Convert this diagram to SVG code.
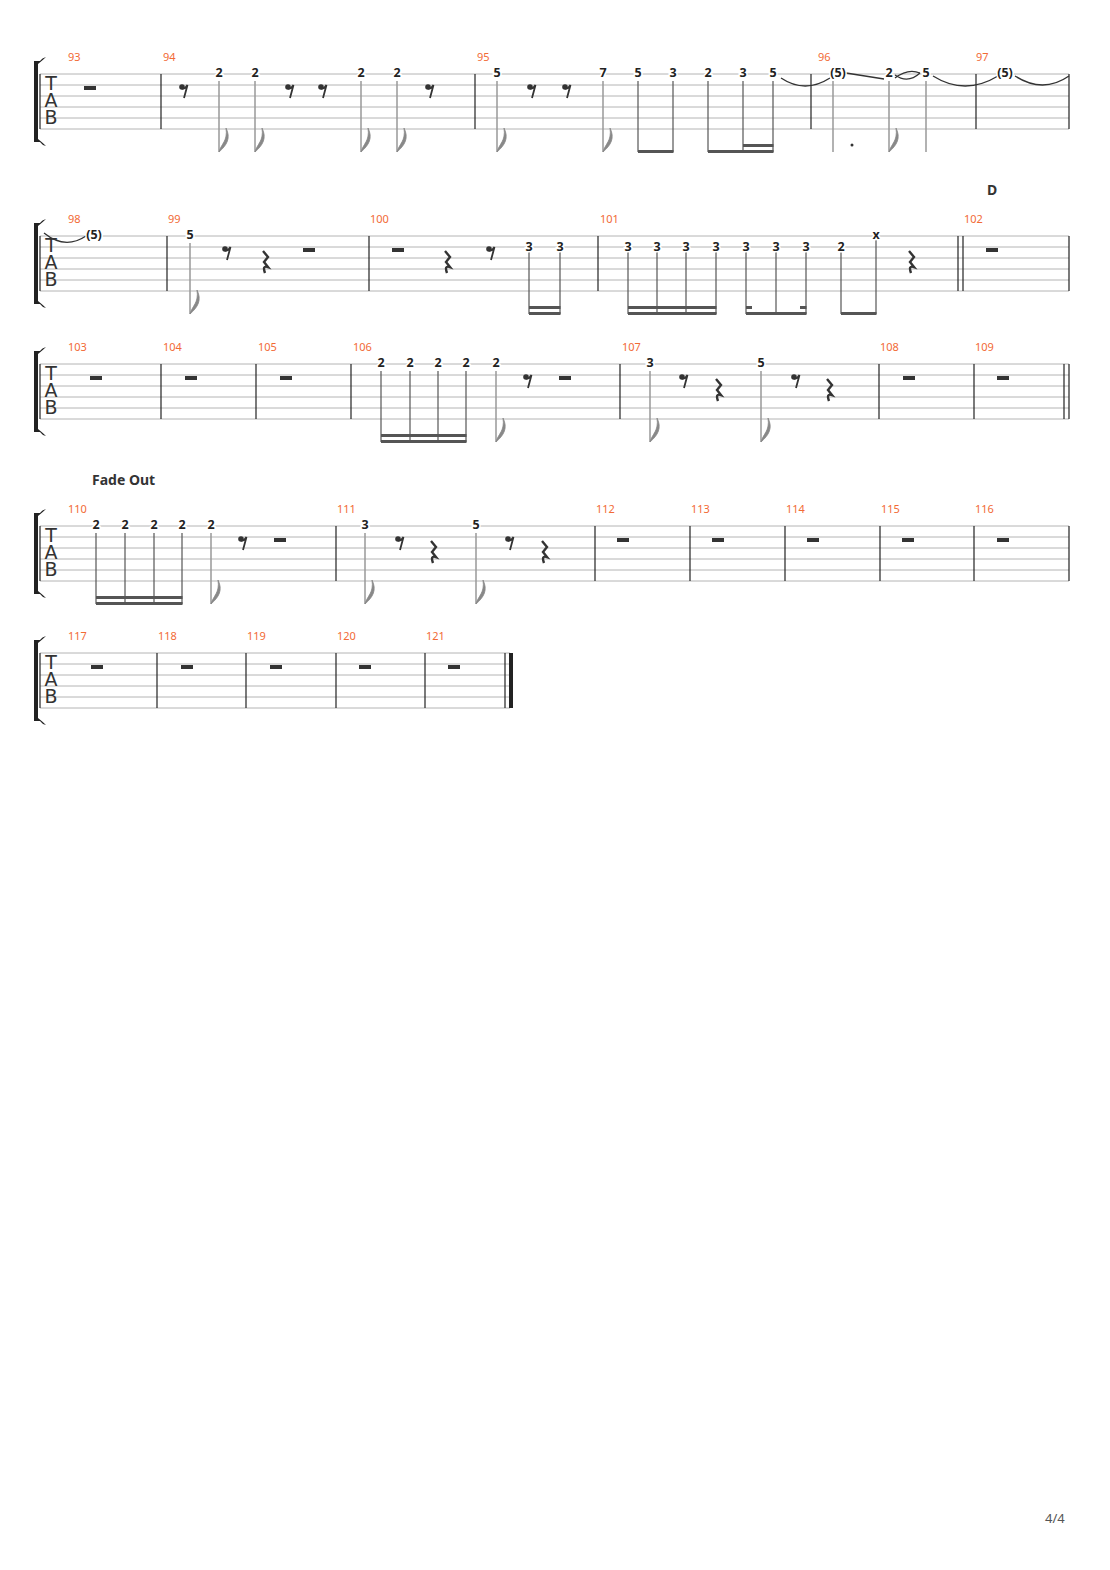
<svg xmlns="http://www.w3.org/2000/svg" xmlns:xlink="http://www.w3.org/1999/xlink" width="1110" height="1570" viewBox="0 0 1110 1570">
<style>
.st{stroke:#b4b4b4;stroke-width:1}
.bl{stroke:#222;stroke-width:1.2}
.mn{font-family:"Noto Sans","Open Sans",sans-serif;font-size:11px;fill:#f26a35}
.n{font-family:"Noto Sans","Open Sans",sans-serif;font-size:12.5px;font-weight:bold;fill:#222;text-anchor:middle;stroke:#fff;stroke-width:3;paint-order:stroke}
.tab{font-family:"DejaVu Sans",sans-serif;font-size:19px;fill:#333;text-anchor:middle}
.sg{stroke:#999;stroke-width:1.5}
.sd{stroke:#555;stroke-width:1.2}
.bm{fill:#555}
.fl{fill:#888;stroke:#888;stroke-width:0.8}
.rs{fill:#333}
.tie{fill:none;stroke:#333;stroke-width:1.3}
.lbl{font-family:"Noto Sans","Open Sans",sans-serif;font-size:14px;font-weight:bold;fill:#333}
</style>
<defs>
<path id="flag" d="M0,78 C2,70 9,67 7,54 C12,64 8,71 0,78 Z"/>
<g id="er"><circle cx="-2" cy="13" r="2.8"/><path d="M-2,14.5 Q1.5,15 3.5,11 L0,24" stroke="#333" stroke-width="1.8" fill="none"/></g>
<path id="qr" d="M-2,15 L3,21 L-1,26 L3,31 Q-3,29 0,37" stroke="#333" stroke-width="2.4" fill="none"/>
<rect id="hr" x="-6" y="12" width="12" height="4"/>
<path id="brk" d="M34,-13 L40,-13 Q42,-16 46,-17 Q43,-14 38,-10 L38,65 Q43,69 46,72 Q42,71 40,68 L34,68 Z" fill="#222"/>
<g id="staff">
<line class="st" x1="40" y1="0" x2="1069" y2="0"/><line class="st" x1="40" y1="11" x2="1069" y2="11"/>
<line class="st" x1="40" y1="22" x2="1069" y2="22"/><line class="st" x1="40" y1="33" x2="1069" y2="33"/>
<line class="st" x1="40" y1="44" x2="1069" y2="44"/><line class="st" x1="40" y1="55" x2="1069" y2="55"/>
<line class="bl" x1="40" y1="0" x2="40" y2="55"/>
<use href="#brk"/>
<text class="tab" x="51" y="16">T</text><text class="tab" x="51" y="33">A</text><text class="tab" x="51" y="50">B</text>
</g>
<g id="staffS">
<line class="st" x1="40" y1="0" x2="510" y2="0"/><line class="st" x1="40" y1="11" x2="510" y2="11"/>
<line class="st" x1="40" y1="22" x2="510" y2="22"/><line class="st" x1="40" y1="33" x2="510" y2="33"/>
<line class="st" x1="40" y1="44" x2="510" y2="44"/><line class="st" x1="40" y1="55" x2="510" y2="55"/>
<line class="bl" x1="40" y1="0" x2="40" y2="55"/>
<use href="#brk"/>
<text class="tab" x="51" y="16">T</text><text class="tab" x="51" y="33">A</text><text class="tab" x="51" y="50">B</text>
</g>
</defs>

<g id="system1" transform="translate(0,74)">
<use href="#staff"/>
<g class="bl"><line x1="161" y1="0" x2="161" y2="55"/><line x1="475" y1="0" x2="475" y2="55"/><line x1="811" y1="0" x2="811" y2="55"/><line x1="976" y1="0" x2="976" y2="55"/><line x1="1069" y1="0" x2="1069" y2="55"/></g>
<text class="mn" x="68" y="-13">93</text><text class="mn" x="163" y="-13">94</text><text class="mn" x="477" y="-13">95</text><text class="mn" x="818" y="-13">96</text><text class="mn" x="976" y="-13">97</text>
<g class="rs"><use href="#hr" x="90"/><use href="#er" x="184"/><use href="#er" x="290"/><use href="#er" x="323"/><use href="#er" x="430"/><use href="#er" x="532"/><use href="#er" x="567"/></g>
<g class="sg"><line x1="219" y1="7" x2="219" y2="78"/><line x1="255" y1="7" x2="255" y2="78"/><line x1="361" y1="7" x2="361" y2="78"/><line x1="397" y1="7" x2="397" y2="78"/><line x1="497" y1="7" x2="497" y2="78"/><line x1="603" y1="7" x2="603" y2="78"/><line x1="833" y1="7" x2="833" y2="78"/><line x1="889" y1="7" x2="889" y2="78"/><line x1="926" y1="7" x2="926" y2="78"/></g>
<g class="fl"><use href="#flag" x="219"/><use href="#flag" x="255"/><use href="#flag" x="361"/><use href="#flag" x="397"/><use href="#flag" x="497"/><use href="#flag" x="603"/><use href="#flag" x="889"/></g>
<circle cx="852" cy="71" r="1.5" fill="#333"/>
<g class="sd"><line x1="638" y1="7" x2="638" y2="78"/><line x1="673" y1="7" x2="673" y2="78"/><line x1="708" y1="7" x2="708" y2="78"/><line x1="743" y1="7" x2="743" y2="78"/><line x1="773" y1="7" x2="773" y2="78"/></g>
<g class="bm"><rect x="638" y="76" width="35.5" height="3"/><rect x="708" y="76" width="65.5" height="3"/><rect x="743" y="70" width="30.5" height="3"/></g>
<g class="tie"><path d="M781,4 Q805,20 830,4"/><path d="M846,-1 L884,5"/><path d="M895,1 Q908,10 920,-1"/><path d="M895,4 Q908,-6 920,-1"/><path d="M933,2 Q965,22 998,2"/><path d="M1015,2 Q1043,20 1069,2"/></g>
<g><text class="n" x="219" y="3">2</text><text class="n" x="255" y="3">2</text><text class="n" x="361" y="3">2</text><text class="n" x="397" y="3">2</text>
<text class="n" x="497" y="3">5</text><text class="n" x="603" y="3">7</text><text class="n" x="638" y="3">5</text><text class="n" x="673" y="3">3</text><text class="n" x="708" y="3">2</text><text class="n" x="743" y="3">3</text><text class="n" x="773" y="3">5</text>
<text class="n" x="838" y="3">(5)</text><text class="n" x="889" y="3">2</text><text class="n" x="926" y="3">5</text><text class="n" x="1005" y="3">(5)</text></g>
</g>

<g id="system2" transform="translate(0,236)">
<use href="#staff"/>
<g class="bl"><line x1="167" y1="0" x2="167" y2="55"/><line x1="369" y1="0" x2="369" y2="55"/><line x1="598" y1="0" x2="598" y2="55"/><line x1="958" y1="0" x2="958" y2="55"/><line x1="963" y1="0" x2="963" y2="55"/><line x1="1069" y1="0" x2="1069" y2="55"/></g>
<text class="mn" x="68" y="-13">98</text><text class="mn" x="168" y="-13">99</text><text class="mn" x="370" y="-13">100</text><text class="mn" x="600" y="-13">101</text><text class="mn" x="964" y="-13">102</text>
<text class="lbl" x="987" y="-41">D</text>
<path class="tie" d="M44,-3 Q65,14 86,0"/>
<g class="rs"><use href="#er" x="227"/><use href="#qr" x="265"/><use href="#hr" x="309"/><use href="#hr" x="398"/><use href="#qr" x="447"/><use href="#er" x="491"/><use href="#qr" x="911"/><use href="#hr" x="992"/></g>
<line class="sg" x1="190" y1="7" x2="190" y2="78"/><use class="fl" href="#flag" x="190"/>
<g class="sd"><line x1="529" y1="7" x2="529" y2="78"/><line x1="560" y1="7" x2="560" y2="78"/>
<line x1="628" y1="7" x2="628" y2="78"/><line x1="657" y1="7" x2="657" y2="78"/><line x1="686" y1="7" x2="686" y2="78"/><line x1="716" y1="7" x2="716" y2="78"/>
<line x1="746" y1="7" x2="746" y2="78"/><line x1="776" y1="7" x2="776" y2="78"/><line x1="806" y1="7" x2="806" y2="78"/><line x1="841" y1="7" x2="841" y2="78"/><line x1="876" y1="3" x2="876" y2="78"/></g>
<g class="bm"><rect x="529" y="76" width="31.5" height="3"/><rect x="529" y="70" width="31.5" height="3"/>
<rect x="628" y="76" width="88.5" height="3"/><rect x="628" y="70" width="88.5" height="3"/>
<rect x="746" y="76" width="60.5" height="3"/><rect x="746" y="70" width="6" height="3"/><rect x="800" y="70" width="6.5" height="3"/>
<rect x="841" y="76" width="35.5" height="3"/></g>
<g><text class="n" x="94" y="3">(5)</text><text class="n" x="190" y="3">5</text><text class="n" x="529" y="15">3</text><text class="n" x="560" y="15">3</text>
<text class="n" x="628" y="15">3</text><text class="n" x="657" y="15">3</text><text class="n" x="686" y="15">3</text><text class="n" x="716" y="15">3</text><text class="n" x="746" y="15">3</text><text class="n" x="776" y="15">3</text><text class="n" x="806" y="15">3</text><text class="n" x="841" y="15">2</text><text class="n" x="876" y="3">x</text></g>
</g>

<g id="system3" transform="translate(0,364)">
<use href="#staff"/>
<g class="bl"><line x1="161" y1="0" x2="161" y2="55"/><line x1="256" y1="0" x2="256" y2="55"/><line x1="351" y1="0" x2="351" y2="55"/><line x1="620" y1="0" x2="620" y2="55"/><line x1="879" y1="0" x2="879" y2="55"/><line x1="974" y1="0" x2="974" y2="55"/><line x1="1064" y1="0" x2="1064" y2="55"/><line x1="1069" y1="0" x2="1069" y2="55"/></g>
<text class="mn" x="68" y="-13">103</text><text class="mn" x="163" y="-13">104</text><text class="mn" x="258" y="-13">105</text><text class="mn" x="353" y="-13">106</text><text class="mn" x="622" y="-13">107</text><text class="mn" x="880" y="-13">108</text><text class="mn" x="975" y="-13">109</text>
<g class="rs"><use href="#hr" x="96"/><use href="#hr" x="191"/><use href="#hr" x="286"/><use href="#er" x="528"/><use href="#hr" x="565"/><use href="#er" x="684"/><use href="#qr" x="718"/><use href="#er" x="796"/><use href="#qr" x="829"/><use href="#hr" x="909"/><use href="#hr" x="1003"/></g>
<g class="sd"><line x1="381" y1="7" x2="381" y2="78"/><line x1="410" y1="7" x2="410" y2="78"/><line x1="438" y1="7" x2="438" y2="78"/><line x1="466" y1="7" x2="466" y2="78"/></g>
<g class="bm"><rect x="381" y="76" width="85.5" height="3"/><rect x="381" y="70" width="85.5" height="3"/></g>
<g class="sg"><line x1="496" y1="7" x2="496" y2="78"/><line x1="650" y1="7" x2="650" y2="78"/><line x1="761" y1="7" x2="761" y2="78"/></g>
<g class="fl"><use href="#flag" x="496"/><use href="#flag" x="650"/><use href="#flag" x="761"/></g>
<g><text class="n" x="381" y="3">2</text><text class="n" x="410" y="3">2</text><text class="n" x="438" y="3">2</text><text class="n" x="466" y="3">2</text><text class="n" x="496" y="3">2</text><text class="n" x="650" y="3">3</text><text class="n" x="761" y="3">5</text></g>
</g>

<g id="system4" transform="translate(0,526)">
<text class="lbl" x="92" y="-41">Fade Out</text>
<use href="#staff"/>
<g class="bl"><line x1="336" y1="0" x2="336" y2="55"/><line x1="595" y1="0" x2="595" y2="55"/><line x1="690" y1="0" x2="690" y2="55"/><line x1="785" y1="0" x2="785" y2="55"/><line x1="880" y1="0" x2="880" y2="55"/><line x1="974" y1="0" x2="974" y2="55"/><line x1="1069" y1="0" x2="1069" y2="55"/></g>
<text class="mn" x="68" y="-13">110</text><text class="mn" x="337" y="-13">111</text><text class="mn" x="596" y="-13">112</text><text class="mn" x="691" y="-13">113</text><text class="mn" x="786" y="-13">114</text><text class="mn" x="881" y="-13">115</text><text class="mn" x="975" y="-13">116</text>
<g class="rs"><use href="#er" x="243"/><use href="#hr" x="280"/><use href="#er" x="400"/><use href="#qr" x="433"/><use href="#er" x="510"/><use href="#qr" x="544"/><use href="#hr" x="623"/><use href="#hr" x="718"/><use href="#hr" x="813"/><use href="#hr" x="908"/><use href="#hr" x="1003"/></g>
<g class="sd"><line x1="96" y1="7" x2="96" y2="78"/><line x1="125" y1="7" x2="125" y2="78"/><line x1="154" y1="7" x2="154" y2="78"/><line x1="182" y1="7" x2="182" y2="78"/></g>
<g class="bm"><rect x="96" y="76" width="86.5" height="3"/><rect x="96" y="70" width="86.5" height="3"/></g>
<g class="sg"><line x1="211" y1="7" x2="211" y2="78"/><line x1="365" y1="7" x2="365" y2="78"/><line x1="476" y1="7" x2="476" y2="78"/></g>
<g class="fl"><use href="#flag" x="211"/><use href="#flag" x="365"/><use href="#flag" x="476"/></g>
<g><text class="n" x="96" y="3">2</text><text class="n" x="125" y="3">2</text><text class="n" x="154" y="3">2</text><text class="n" x="182" y="3">2</text><text class="n" x="211" y="3">2</text><text class="n" x="365" y="3">3</text><text class="n" x="476" y="3">5</text></g>
</g>

<g id="system5" transform="translate(0,653)">
<use href="#staffS"/>
<g class="bl"><line x1="157" y1="0" x2="157" y2="55"/><line x1="246" y1="0" x2="246" y2="55"/><line x1="336" y1="0" x2="336" y2="55"/><line x1="425" y1="0" x2="425" y2="55"/><line x1="505" y1="0" x2="505" y2="55"/></g>
<rect x="509" y="0" width="4" height="55" fill="#222"/>
<text class="mn" x="68" y="-13">117</text><text class="mn" x="158" y="-13">118</text><text class="mn" x="247" y="-13">119</text><text class="mn" x="337" y="-13">120</text><text class="mn" x="426" y="-13">121</text>
<g class="rs"><use href="#hr" x="97"/><use href="#hr" x="187"/><use href="#hr" x="276"/><use href="#hr" x="365"/><use href="#hr" x="454"/></g>
</g>

<text x="1045" y="1523" font-family="Noto Sans, sans-serif" font-size="13" fill="#555">4/4</text>
</svg>
